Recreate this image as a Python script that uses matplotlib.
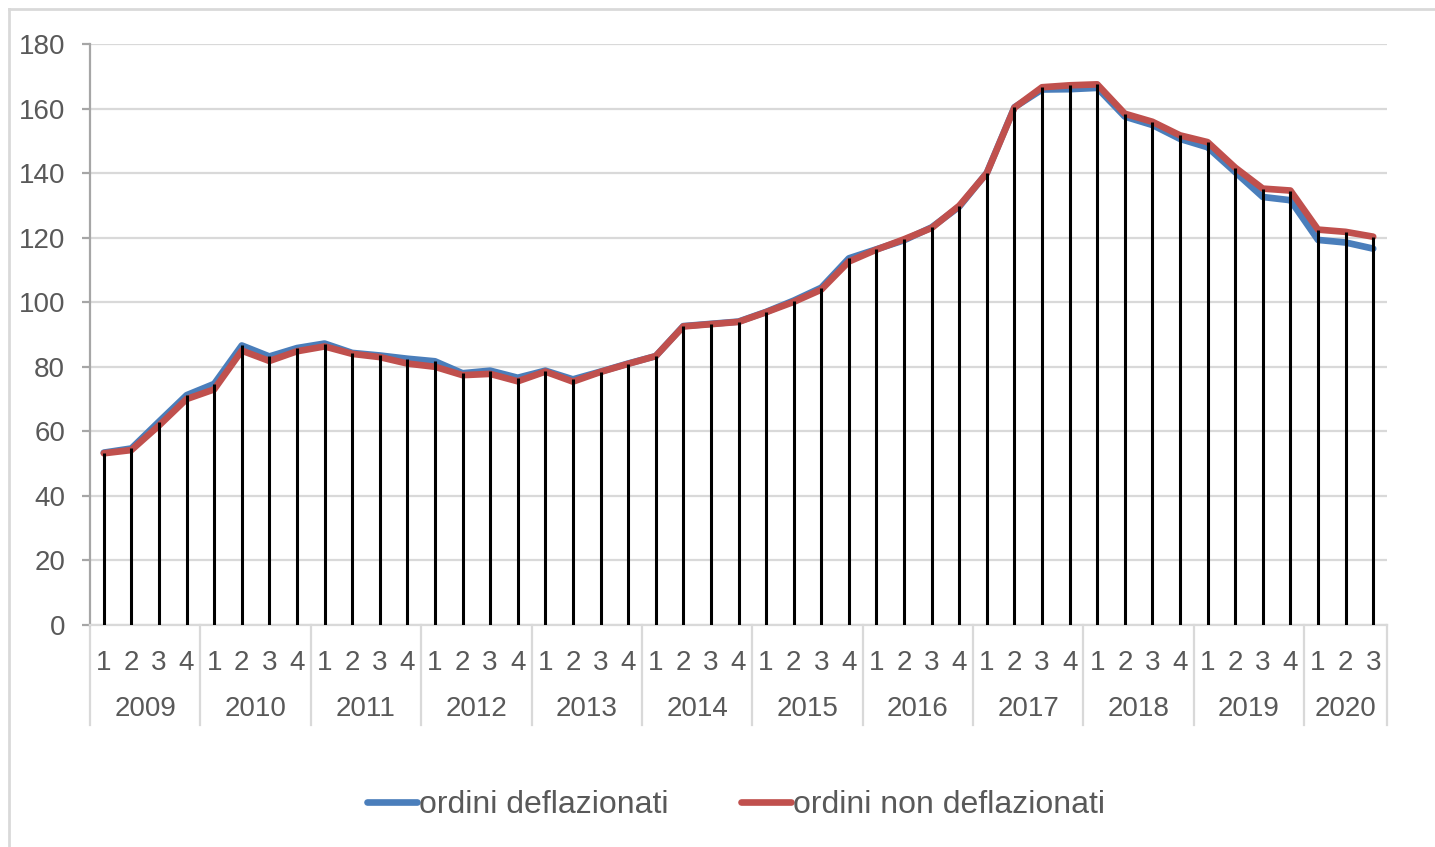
import numpy as np
import matplotlib.pyplot as plt
from matplotlib.transforms import blended_transform_factory
from matplotlib.lines import Line2D

plt.rcParams['font.family'] = ['Liberation Sans', 'DejaVu Sans']

# quarterly data 2009 Q1 - 2020 Q3
years = ['2009', '2010', '2011', '2012', '2013', '2014', '2015', '2016',
         '2017', '2018', '2019', '2020']
quarters_per_year = [4, 4, 4, 4, 4, 4, 4, 4, 4, 4, 4, 3]
quarters = [str(q + 1) for n in quarters_per_year for q in range(n)]

deflazionati = [53.4, 54.7, 63.0, 71.2, 74.7, 86.6, 83.2, 85.8,
                87.2, 84.3, 83.5, 82.5, 81.7, 78.0, 78.8, 76.6,
                78.8, 76.1, 78.5, 81.0, 83.3, 92.6, 93.3, 94.0,
                97.0, 100.5, 104.5, 113.6, 116.4, 119.2, 123.2, 129.6,
                140.1, 160.4, 165.9, 166.0, 166.4, 157.5, 154.9, 150.6,
                148.0, 140.3, 132.6, 131.6, 119.3, 118.5, 116.6]
non_deflazionati = [53.2, 54.2, 61.8, 70.0, 73.0, 85.0, 81.8, 84.8,
                    86.3, 84.0, 83.0, 81.0, 80.0, 77.4, 77.8, 75.5,
                    78.5, 75.4, 78.4, 80.9, 83.3, 92.5, 93.2, 93.9,
                    96.9, 100.1, 103.9, 112.6, 116.3, 119.5, 123.0, 129.9,
                    140.0, 160.3, 166.6, 167.2, 167.5, 158.4, 155.9, 151.7,
                    149.6, 141.7, 135.2, 134.6, 122.5, 121.8, 120.3]

W, H = 1435, 847
fig = plt.figure(figsize=(W / 100, H / 100), dpi=100)
ax = fig.add_axes([90 / W, 1 - 625 / H, (1387 - 90) / W, (625 - 44) / H])

text_col = '#595959'
grid_col = '#D9D9D9'
axis_col = '#A6A6A6'
blue = '#4A7EBB'
red = '#C0504D'

x = np.arange(len(quarters))
top = np.maximum(deflazionati, non_deflazionati)

ax.plot(x, deflazionati, color=blue, lw=4.8, solid_capstyle='round', zorder=3)
ax.plot(x, non_deflazionati, color=red, lw=4.8, solid_capstyle='round', zorder=4)
ax.vlines(x, 0, top, color='black', lw=2.2, zorder=5)

ax.set_xlim(-0.5, len(quarters) - 0.5)
ax.set_ylim(0, 180)
ax.set_yticks(np.arange(0, 181, 20))
ax.yaxis.grid(True, color=grid_col, lw=1.6, zorder=0)
ax.set_axisbelow(True)

for s in ['top', 'right']:
    ax.spines[s].set_visible(False)
ax.spines['left'].set_color(axis_col)
ax.spines['left'].set_linewidth(1.6)
ax.spines['bottom'].set_color(grid_col)
ax.spines['bottom'].set_linewidth(1.6)

ax.tick_params(axis='y', length=6, width=1.6, color=axis_col, labelsize=20,
               labelcolor=text_col, pad=12)
ax.set_xticks(x)
ax.set_xticklabels(quarters)
ax.tick_params(axis='x', length=0, labelsize=20, labelcolor=text_col, pad=18)

# year row and separators
trans = blended_transform_factory(ax.transData, ax.transAxes)
h = (625 - 44)
bounds = np.concatenate([[0], np.cumsum(quarters_per_year)]) - 0.5
for b in bounds:
    ax.plot([b, b], [0, -100 / h], transform=trans, color=grid_col, lw=1.6,
            clip_on=False)
for i, yr in enumerate(years):
    ax.text((bounds[i] + bounds[i + 1]) / 2, -84 / h, yr, transform=trans,
            ha='center', va='center', fontsize=20, color=text_col)

handles = [Line2D([], [], color=blue, lw=4.8, solid_capstyle='round'),
           Line2D([], [], color=red, lw=4.8, solid_capstyle='round')]
leg = fig.legend(handles, ['ordini deflazionati', 'ordini non deflazionati'],
                 loc='center', bbox_to_anchor=(736 / W, 1 - 805 / H), ncol=2,
                 frameon=False, fontsize=23, handlelength=1.55,
                 handletextpad=0.05, columnspacing=2.3)
for t in leg.get_texts():
    t.set_color(text_col)

# outer chart frame
fig.add_artist(Line2D([9 / W, 9 / W], [0, 1 - 9 / H], color=grid_col, lw=2,
                      transform=fig.transFigure))
fig.add_artist(Line2D([9 / W, 1], [1 - 9 / H, 1 - 9 / H], color=grid_col, lw=2,
                      transform=fig.transFigure))

fig.savefig('out.png', dpi=100)
